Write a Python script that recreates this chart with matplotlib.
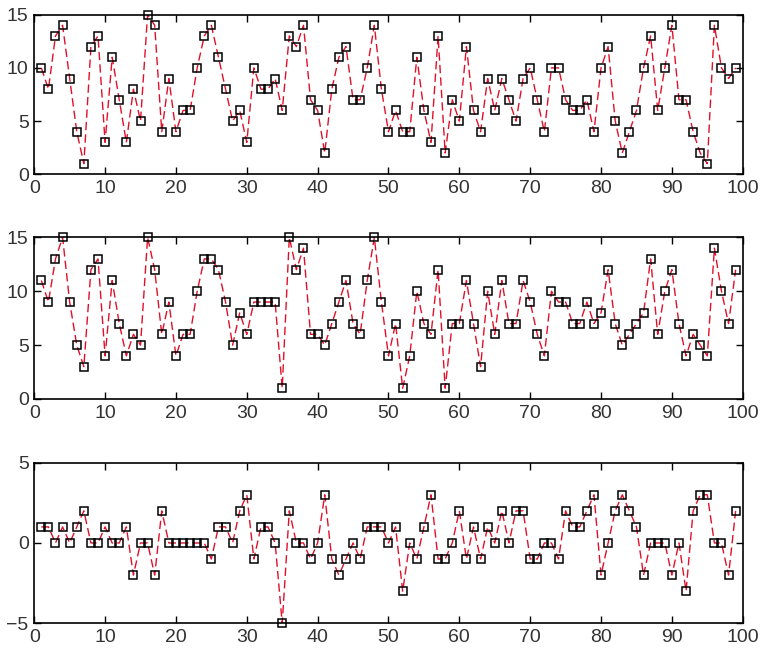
import numpy as np
import matplotlib
matplotlib.use('Agg')
import matplotlib.pyplot as plt

# sample index
x = np.arange(1, 100)

# values, one list per panel
top_vals = [10, 8, 13, 14, 9, 4, 1, 12, 13, 3, 11, 7, 3, 8, 5, 15, 14, 4, 9, 4,
            6, 6, 10, 13, 14, 11, 8, 5, 6, 3, 10, 8, 8, 9, 6, 13, 12, 14, 7, 6,
            2, 8, 11, 12, 7, 7, 10, 14, 8, 4, 6, 4, 4, 11, 6, 3, 13, 2, 7, 5,
            12, 6, 4, 9, 6, 9, 7, 5, 9, 10, 7, 4, 10, 10, 7, 6, 6, 7, 4, 10,
            12, 5, 2, 4, 6, 10, 13, 6, 10, 14, 7, 7, 4, 2, 1, 14, 10, 9, 10]
mid_vals = [11, 9, 13, 15, 9, 5, 3, 12, 13, 4, 11, 7, 4, 6, 5, 15, 12, 6, 9, 4,
            6, 6, 10, 13, 13, 12, 9, 5, 8, 6, 9, 9, 9, 9, 1, 15, 12, 14, 6, 6,
            5, 7, 9, 11, 7, 6, 11, 15, 9, 4, 7, 1, 4, 10, 7, 6, 12, 1, 7, 7,
            11, 7, 3, 10, 6, 11, 7, 7, 11, 9, 6, 4, 10, 9, 9, 7, 7, 9, 7, 8,
            12, 7, 5, 6, 7, 8, 13, 6, 10, 12, 7, 4, 6, 5, 4, 14, 10, 7, 12]
bot_vals = [1, 1, 0, 1, 0, 1, 2, 0, 0, 1, 0, 0, 1, -2, 0, 0, -2, 2, 0, 0,
            0, 0, 0, 0, -1, 1, 1, 0, 2, 3, -1, 1, 1, 0, -5, 2, 0, 0, -1, 0,
            3, -1, -2, -1, 0, -1, 1, 1, 1, 0, 1, -3, 0, -1, 1, 3, -1, -1, 0, 2,
            -1, 1, -1, 1, 0, 2, 0, 2, 2, -1, -1, 0, 0, -1, 2, 1, 1, 2, 3, -2,
            0, 2, 3, 2, 1, -2, 0, 0, 0, -2, 0, -3, 2, 3, 3, 0, 0, -2, 2]

panels = [
    (top_vals, (0, 15), [0, 5, 10, 15], [0.7347, 0.243]),
    (mid_vals, (0, 15), [0, 5, 10, 15], [0.3927, 0.246]),
    (bot_vals, (-5, 5), [-5, 0, 5], [0.0513, 0.2445]),
]

plt.rcParams['font.family'] = 'Liberation Sans'

fig = plt.figure(figsize=(7.61, 6.57), dpi=100)
for vals, ylim, yticks, (bottom, height) in panels:
    ax = fig.add_axes([0.045, bottom, 0.931, height])
    ax.plot(x, vals, '--', color='#e0102a', lw=1.0, dashes=(6, 3))
    ax.plot(x, vals, 's', mfc='none', mec='black', ms=6.3, mew=1.1,
            clip_on=False, zorder=5)
    ax.set_xlim(0, 100)
    ax.set_ylim(*ylim)
    ax.set_xticks(np.arange(0, 101, 10))
    ax.set_yticks(yticks)
    ax.tick_params(direction='in', top=True, right=True, length=5, width=1,
                   labelsize=14, pad=4, labelcolor='#333333')
    for s in ax.spines.values():
        s.set_linewidth(1.2)

plt.savefig('out.png', dpi=100)
